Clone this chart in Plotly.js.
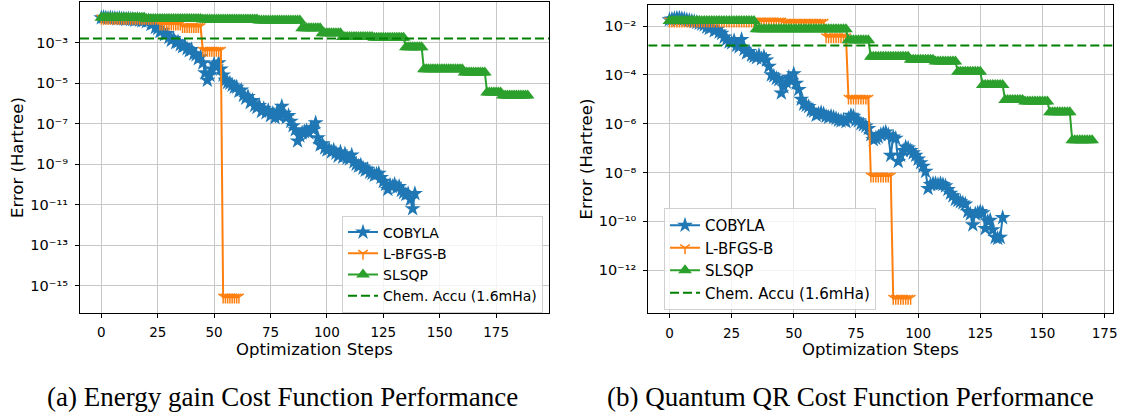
<!DOCTYPE html>
<html>
<head>
<meta charset="utf-8">
<script src="https://cdn.plot.ly/plotly-3.0.1.min.js"></script>
<style>
  html, body { margin: 0; padding: 0; background: #ffffff; }
  #chart { width: 1124px; height: 417px; }
</style>
</head>
<body>
<div id="chart"></div>
<script>
// Optimizer error (Hartree) per optimization step, for two cost functions.
const methodNames = ['COBYLA', 'L-BFGS-B', 'SLSQP'];
const chemAccuLabel = 'Chem. Accu (1.6mHa)';
const chemAccu = 1.6e-3;
const stepTicks = [0, 25, 50, 75, 100, 125, 150, 175];
const energyTickExps = [-15, -13, -11, -9, -7, -5, -3];
const qrTickExps = [-12, -10, -8, -6, -4, -2];
const xTitle = 'Optimization Steps';
const yTitle = 'Error (Hartree)';
const captions = ['(a) Energy gain Cost Function Performance',
                  '(b) Quantum QR Cost Function Performance'];

// (a) Energy gain cost function
const energyCobyla = [
  1.7e-2, 1.8e-2, 1.7e-2, 1.6e-2, 1.7e-2, 1.6e-2, 1.6e-2, 1.5e-2, 1.6e-2, 1.5e-2,
  1.5e-2, 1.4e-2, 1.5e-2, 1.4e-2, 1.4e-2, 1.3e-2, 1.4e-2, 1.3e-2, 1.2e-2, 1.3e-2,
  1.1e-2, 1.2e-2, 7.9e-3, 8.9e-3, 5.6e-3, 5.0e-3, 3.5e-3, 4.0e-3, 2.5e-3, 2.8e-3,
  1.8e-3, 1.3e-3, 1.6e-3, 1.0e-3, 1.1e-3, 7.9e-4, 6.3e-4, 7.1e-4, 5.0e-4, 4.0e-4,
  4.5e-4, 2.8e-4, 2.5e-4, 1.6e-4, 2.0e-4, 1.0e-4, 3.2e-5, 1.4e-5, 2.5e-5, 5.0e-5,
  8.9e-5, 6.3e-5, 1.0e-4, 5.0e-5, 2.5e-5, 1.4e-5, 1.1e-5, 1.0e-5, 7.9e-6, 6.3e-6,
  6.3e-6, 4.0e-6, 4.5e-6, 2.5e-6, 1.8e-6, 2.2e-6, 1.1e-6, 1.4e-6, 7.9e-7, 6.3e-7,
  7.9e-7, 4.0e-7, 5.6e-7, 3.5e-7, 4.5e-7, 2.5e-7, 3.2e-7, 2.0e-7, 4.0e-7, 2.2e-7,
  7.1e-7, 3.2e-7, 2.0e-7, 2.5e-7, 1.3e-7, 7.9e-8, 5.0e-8, 1.4e-8, 2.5e-8, 3.5e-8,
  4.0e-8, 4.5e-8, 3.5e-8, 6.3e-8, 5.0e-8, 1.1e-7, 2.0e-8, 8.9e-9, 1.0e-8, 6.3e-9,
  5.0e-9, 5.6e-9, 4.0e-9, 5.0e-9, 3.5e-9, 2.5e-9, 4.0e-9, 2.2e-9, 3.2e-9, 2.0e-9,
  1.8e-9, 2.8e-9, 1.3e-9, 1.0e-9, 7.9e-10, 8.9e-10, 6.3e-10, 5.0e-10, 5.6e-10, 4.0e-10,
  3.5e-10, 2.8e-10, 3.2e-10, 3.5e-10, 2.2e-10, 1.4e-10, 1.0e-10, 5.6e-11, 8.9e-11, 7.9e-11,
  1.0e-10, 7.1e-11, 7.9e-11, 5.0e-11, 4.0e-11, 3.2e-11, 3.5e-11, 1.8e-11, 6.3e-12, 3.5e-11
];
const energyLbfgsb = [
  1.6e-2, 1.6e-2, 1.6e-2, 1.6e-2, 1.6e-2, 1.6e-2, 1.6e-2, 1.6e-2, 1.6e-2, 1.6e-2,
  1.6e-2, 1.6e-2, 1.6e-2, 1.6e-2, 1.6e-2, 1.6e-2, 1.6e-2, 1.6e-2, 1.6e-2, 1.6e-2,
  1.6e-2, 1.6e-2, 1.6e-2, 1.6e-2, 1.6e-2, 1.6e-2,
  8.3e-3, 8.3e-3, 8.3e-3, 8.3e-3, 8.3e-3, 8.3e-3, 8.3e-3, 8.3e-3, 8.3e-3, 8.3e-3,
  6.3e-3, 6.3e-3, 6.3e-3, 6.3e-3, 6.3e-3, 6.3e-3, 6.3e-3, 6.3e-3, 6.3e-3,
  4.2e-4, 4.2e-4, 4.2e-4, 4.2e-4, 4.2e-4, 4.2e-4, 4.2e-4, 4.2e-4, 4.2e-4,
  2.7e-16, 2.7e-16, 2.7e-16, 2.7e-16, 2.7e-16, 2.7e-16, 2.7e-16, 2.7e-16
];
const energySlsqp = [
  1.7e-2, 1.7e-2, 1.7e-2, 1.7e-2, 1.7e-2, 1.7e-2, 1.7e-2, 1.7e-2, 1.7e-2, 1.7e-2,
  1.7e-2, 1.7e-2, 1.7e-2, 1.7e-2, 1.7e-2, 1.7e-2, 1.7e-2, 1.7e-2, 1.7e-2, 1.7e-2,
  1.5e-2, 1.5e-2, 1.5e-2, 1.5e-2, 1.5e-2, 1.5e-2, 1.5e-2, 1.5e-2, 1.5e-2, 1.5e-2,
  1.5e-2, 1.5e-2, 1.5e-2, 1.5e-2, 1.5e-2, 1.5e-2, 1.5e-2, 1.5e-2, 1.5e-2, 1.5e-2,
  1.5e-2, 1.5e-2, 1.5e-2, 1.5e-2, 1.5e-2,
  1.4e-2, 1.4e-2, 1.4e-2, 1.4e-2, 1.4e-2, 1.4e-2, 1.4e-2, 1.4e-2, 1.4e-2, 1.4e-2,
  1.4e-2, 1.4e-2, 1.4e-2, 1.4e-2, 1.4e-2, 1.4e-2, 1.4e-2, 1.4e-2, 1.4e-2, 1.4e-2,
  1.4e-2, 1.4e-2, 1.4e-2, 1.4e-2, 1.4e-2,
  1.25e-2, 1.25e-2, 1.25e-2, 1.25e-2, 1.25e-2, 1.25e-2, 1.25e-2, 1.25e-2, 1.25e-2, 1.25e-2,
  1.25e-2, 1.25e-2, 1.25e-2, 1.25e-2, 1.25e-2, 1.25e-2, 1.25e-2, 1.25e-2, 1.25e-2,
  5.1e-3, 5.1e-3, 5.1e-3, 5.1e-3, 5.1e-3, 5.1e-3, 5.1e-3, 5.1e-3, 5.1e-3,
  2.9e-3, 2.9e-3, 2.9e-3, 2.9e-3, 2.9e-3, 2.9e-3, 2.9e-3, 2.9e-3, 2.9e-3,
  1.9e-3, 1.9e-3, 1.9e-3, 1.9e-3, 1.9e-3, 1.9e-3, 1.9e-3, 1.9e-3, 1.9e-3, 1.9e-3,
  1.9e-3, 1.9e-3, 1.9e-3, 1.9e-3,
  1.75e-3, 1.75e-3, 1.75e-3, 1.75e-3, 1.75e-3, 1.75e-3, 1.75e-3, 1.75e-3, 1.75e-3, 1.75e-3,
  1.75e-3, 1.75e-3, 1.75e-3, 1.75e-3,
  5.9e-4, 5.9e-4, 5.9e-4, 5.9e-4, 5.9e-4, 5.9e-4, 5.9e-4, 5.9e-4,
  4.9e-5, 4.9e-5, 4.9e-5, 4.9e-5, 4.9e-5, 4.9e-5, 4.9e-5, 4.9e-5, 4.9e-5, 4.9e-5,
  4.9e-5, 4.9e-5, 4.9e-5, 4.9e-5, 4.9e-5, 4.9e-5, 4.9e-5, 4.9e-5,
  3.4e-5, 3.4e-5, 3.4e-5, 3.4e-5, 3.4e-5, 3.4e-5, 3.4e-5, 3.4e-5, 3.4e-5, 3.4e-5,
  3.5e-6, 3.5e-6, 3.5e-6, 3.5e-6, 3.5e-6, 3.5e-6, 3.5e-6,
  2.5e-6, 2.5e-6, 2.5e-6, 2.5e-6, 2.5e-6, 2.5e-6, 2.5e-6, 2.5e-6, 2.5e-6, 2.5e-6,
  2.5e-6, 2.5e-6
];

// (b) Quantum QR cost function
const qrCobyla = [
  1.8e-2, 1.9e-2, 2.0e-2, 2.1e-2, 2.1e-2, 2.0e-2, 1.9e-2, 1.8e-2, 1.7e-2, 1.6e-2,
  1.5e-2, 1.4e-2, 1.3e-2, 1.2e-2, 1.1e-2, 8.9e-3, 7.9e-3, 8.9e-3, 6.3e-3, 7.1e-3,
  5.6e-3, 5.0e-3, 3.5e-3, 2.8e-3, 2.2e-3, 2.0e-3, 2.5e-3, 1.6e-3, 1.4e-3, 2.8e-3,
  1.1e-3, 7.9e-4, 8.9e-4, 6.3e-4, 5.6e-4, 5.0e-4, 6.3e-4, 4.5e-4, 5.6e-4, 4.0e-4,
  2.2e-4, 1.0e-4, 8.9e-5, 7.1e-5, 6.3e-5, 1.8e-5, 3.2e-5, 5.0e-5, 7.9e-5, 5.6e-5,
  1.1e-4, 4.5e-5, 2.5e-5, 1.0e-5, 6.3e-6, 5.6e-6, 5.0e-6, 3.5e-6, 3.2e-6, 2.2e-6,
  2.5e-6, 2.8e-6, 2.5e-6, 2.0e-6, 1.8e-6, 2.0e-6, 1.8e-6, 1.6e-6, 1.4e-6, 1.3e-6,
  1.4e-6, 1.2e-6, 1.6e-6, 2.2e-6, 2.0e-6, 1.4e-6, 1.3e-6, 1.0e-6, 8.9e-7, 7.9e-7,
  6.3e-7, 3.5e-7, 2.2e-7, 2.5e-7, 2.8e-7, 3.5e-7, 4.0e-7, 4.5e-7, 3.5e-7, 5.0e-8,
  2.8e-7, 2.5e-7, 2.8e-8, 5.0e-8, 7.9e-8, 1.1e-7, 1.0e-7, 7.9e-8, 6.3e-8, 5.0e-8,
  3.5e-8, 2.5e-8, 1.8e-8, 1.1e-8, 2.2e-9, 3.2e-9, 3.5e-9, 3.5e-9, 3.2e-9, 3.5e-9,
  3.2e-9, 2.8e-9, 2.0e-9, 1.4e-9, 1.1e-9, 7.9e-10, 7.1e-10, 6.3e-10, 5.6e-10, 5.0e-10,
  2.5e-10, 2.0e-10, 7.1e-11, 2.0e-10, 2.2e-10, 2.5e-10, 2.2e-10, 5.0e-11, 1.0e-10, 1.1e-10,
  4.5e-11, 2.2e-11, 2.0e-11, 2.2e-11, 1.4e-10
];
const qrLbfgsb = [
  1.6e-2, 1.6e-2, 1.6e-2, 1.6e-2, 1.6e-2, 1.6e-2, 1.6e-2, 1.6e-2, 1.6e-2, 1.6e-2,
  1.6e-2, 1.6e-2, 1.6e-2, 1.6e-2, 1.6e-2, 1.6e-2, 1.6e-2, 1.6e-2, 1.6e-2, 1.6e-2,
  1.6e-2, 1.6e-2, 1.6e-2, 1.6e-2, 1.6e-2, 1.6e-2, 1.6e-2, 1.6e-2, 1.6e-2, 1.6e-2,
  1.6e-2, 1.6e-2, 1.6e-2, 1.6e-2, 1.6e-2, 1.6e-2, 1.6e-2, 1.6e-2, 1.6e-2, 1.6e-2,
  1.6e-2, 1.6e-2, 1.6e-2, 1.6e-2, 1.6e-2, 1.6e-2,
  1.4e-2, 1.4e-2, 1.4e-2, 1.4e-2, 1.4e-2, 1.4e-2, 1.4e-2, 1.4e-2, 1.4e-2, 1.4e-2,
  1.4e-2, 1.4e-2, 1.4e-2, 1.4e-2, 1.4e-2, 1.4e-2, 1.4e-2,
  3.6e-3, 3.6e-3, 3.6e-3, 3.6e-3, 3.6e-3, 3.6e-3, 3.6e-3, 3.6e-3, 3.6e-3,
  1.1e-5, 1.1e-5, 1.1e-5, 1.1e-5, 1.1e-5, 1.1e-5, 1.1e-5, 1.1e-5, 1.1e-5,
  7.1e-9, 7.1e-9, 7.1e-9, 7.1e-9, 7.1e-9, 7.1e-9, 7.1e-9, 7.1e-9, 7.1e-9,
  6.9e-14, 6.9e-14, 6.9e-14, 6.9e-14, 6.9e-14, 6.9e-14, 6.9e-14, 6.9e-14
];
const qrSlsqp = [
  1.6e-2, 1.6e-2, 1.6e-2, 1.6e-2, 1.6e-2, 1.6e-2, 1.6e-2, 1.6e-2, 1.6e-2, 1.6e-2,
  1.6e-2, 1.6e-2, 1.6e-2, 1.6e-2, 1.6e-2, 1.6e-2, 1.6e-2, 1.6e-2, 1.6e-2, 1.6e-2,
  1.6e-2, 1.6e-2, 1.6e-2, 1.6e-2, 1.6e-2, 1.6e-2, 1.6e-2, 1.6e-2, 1.6e-2, 1.6e-2,
  1.6e-2, 1.6e-2, 1.6e-2, 1.6e-2, 1.6e-2,
  7.4e-3, 7.4e-3, 7.4e-3, 7.4e-3, 7.4e-3, 7.4e-3, 7.4e-3, 7.4e-3, 7.4e-3, 7.4e-3,
  7.4e-3, 7.4e-3, 7.4e-3, 7.4e-3, 7.4e-3, 7.4e-3, 7.4e-3, 7.4e-3, 7.4e-3, 7.4e-3,
  7.4e-3, 7.4e-3, 7.4e-3, 7.4e-3, 7.4e-3, 7.4e-3, 7.4e-3, 7.4e-3, 7.4e-3, 7.4e-3,
  7.4e-3, 7.4e-3, 7.4e-3, 7.4e-3, 7.4e-3, 7.4e-3, 7.4e-3,
  2.6e-3, 2.6e-3, 2.6e-3, 2.6e-3, 2.6e-3, 2.6e-3, 2.6e-3, 2.6e-3, 2.6e-3,
  5.5e-4, 5.5e-4, 5.5e-4, 5.5e-4, 5.5e-4, 5.5e-4, 5.5e-4, 5.5e-4, 5.5e-4, 5.5e-4,
  5.5e-4, 5.5e-4, 5.5e-4, 5.5e-4, 5.5e-4, 5.5e-4,
  4.1e-4, 4.1e-4, 4.1e-4, 4.1e-4, 4.1e-4, 4.1e-4, 4.1e-4, 4.1e-4, 4.1e-4, 4.1e-4,
  3.5e-4, 3.5e-4, 3.5e-4, 3.5e-4, 3.5e-4, 3.5e-4, 3.5e-4, 3.5e-4, 3.5e-4,
  1.35e-4, 1.35e-4, 1.35e-4, 1.35e-4, 1.35e-4, 1.35e-4, 1.35e-4, 1.35e-4, 1.35e-4, 1.35e-4,
  3.8e-5, 3.8e-5, 3.8e-5, 3.8e-5, 3.8e-5, 3.8e-5, 3.8e-5, 3.8e-5, 3.8e-5,
  9.3e-6, 9.3e-6, 9.3e-6, 9.3e-6, 9.3e-6, 9.3e-6, 9.3e-6, 9.3e-6,
  8.0e-6, 8.0e-6, 8.0e-6, 8.0e-6, 8.0e-6, 8.0e-6, 8.0e-6, 8.0e-6, 8.0e-6, 8.0e-6,
  2.9e-6, 2.9e-6, 2.9e-6, 2.9e-6, 2.9e-6, 2.9e-6, 2.9e-6, 2.9e-6, 2.9e-6,
  2.1e-7, 2.1e-7, 2.1e-7, 2.1e-7, 2.1e-7, 2.1e-7, 2.1e-7, 2.1e-7, 2.1e-7
];

// ---- styling ----
const W = 1124, H = 417;
const methodStyle = {
  'COBYLA':   { color: '#1f77b4', marker: { symbol: 'star', size: 12 } },
  'L-BFGS-B': { color: '#ff7f0e', marker: { symbol: 'y-down', size: 8, line: { width: 1.5, color: '#ff7f0e' } } },
  'SLSQP':    { color: '#2ca02c', marker: { symbol: 'triangle-up', size: 12 } }
};
const chemColor = '#008000';

const panels = [
  { xa: 'x', ya: 'y', legend: 'legend',
    series: [energyCobyla, energyLbfgsb, energySlsqp],
    xRange: [-9.45, 198.45] },
  { xa: 'x2', ya: 'y2', legend: 'legend2',
    series: [qrCobyla, qrLbfgsb, qrSlsqp],
    xRange: [-8.5, 178.5] }
];

const traces = [];
panels.forEach(p => {
  p.series.forEach((vals, k) => {
    const name = methodNames[k];
    const st = methodStyle[name];
    traces.push({
      type: 'scatter', mode: 'lines+markers', name: name,
      x: vals.map((_, i) => i), y: vals,
      xaxis: p.xa, yaxis: p.ya, legend: p.legend,
      line: { color: st.color, width: 2 },
      marker: Object.assign({ color: st.color }, st.marker),
      hoverinfo: 'x+y+name'
    });
  });
  traces.push({
    type: 'scatter', mode: 'lines', name: chemAccuLabel,
    x: p.xRange, y: [chemAccu, chemAccu],
    xaxis: p.xa, yaxis: p.ya, legend: p.legend,
    line: { color: chemColor, width: 2, dash: '9px,4px' },
    hoverinfo: 'name'
  });
});

// Power-of-ten labels written with superscript characters, e.g. 10⁻¹³
const SUP_DIGITS = ['\u2070', '\u00B9', '\u00B2', '\u00B3', '\u2074', '\u2075', '\u2076', '\u2077', '\u2078', '\u2079'];
const powLabel = e => '10' + (e < 0 ? '\u207B' : '') +
  String(Math.abs(e)).split('').map(d => SUP_DIGITS[+d]).join('');

const baseX = {
  tickvals: stepTicks, ticks: 'outside', ticklen: 4, tickwidth: 1, tickcolor: '#000',
  showline: true, mirror: true, linecolor: '#000', linewidth: 1,
  showgrid: true, gridcolor: '#c8c8c8', gridwidth: 1, zeroline: false,
  tickfont: { size: 13.5, color: '#000' }, ticklabelstandoff: 3, fixedrange: true
};
const baseY = Object.assign({}, baseX, { type: 'log', ticklabelstandoff: 4, tickfont: { size: 14.5, color: '#000' } });

const layout = {
  width: W, height: H,
  margin: { l: 0, r: 0, t: 0, b: 0 },
  paper_bgcolor: '#ffffff', plot_bgcolor: '#ffffff',
  font: { family: 'DejaVu Sans, sans-serif', size: 14, color: '#000' },
  showlegend: true,
  xaxis: Object.assign({}, baseX, { domain: [80 / W, 549 / W], range: panels[0].xRange, anchor: 'y' }),
  yaxis: Object.assign({}, baseY, {
    domain: [1 - 313 / H, 1 - 2 / H], range: [-16.35, -0.99], anchor: 'x',
    tickvals: energyTickExps.map(e => Math.pow(10, e)), ticktext: energyTickExps.map(powLabel)
  }),
  xaxis2: Object.assign({}, baseX, { domain: [648.3 / W, 1113.3 / W], range: panels[1].xRange, anchor: 'y2' }),
  yaxis2: Object.assign({}, baseY, {
    domain: [1 - 313.3 / H, 1 - 4.7 / H], range: [-13.77, -1.127], anchor: 'x2',
    tickvals: qrTickExps.map(e => Math.pow(10, e)), ticktext: qrTickExps.map(powLabel)
  }),
  legend: {
    x: 342 / W, y: 1 - 215.5 / H, xanchor: 'left', yanchor: 'top',
    bgcolor: 'rgba(255,255,255,0.8)', bordercolor: '#d0d0d0', borderwidth: 1,
    font: { size: 14, color: '#000' }, tracegroupgap: 0
  },
  legend2: {
    x: 664 / W, y: 1 - 208 / H, xanchor: 'left', yanchor: 'top',
    bgcolor: 'rgba(255,255,255,0.8)', bordercolor: '#d0d0d0', borderwidth: 1,
    font: { size: 15, color: '#000' }, tracegroupgap: 0
  },
  annotations: [
    { text: xTitle, xref: 'paper', yref: 'paper', x: 314.5 / W, y: 1 - 349 / H,
      xanchor: 'center', yanchor: 'middle', showarrow: false, font: { size: 16.5 } },
    { text: xTitle, xref: 'paper', yref: 'paper', x: 880.8 / W, y: 1 - 349 / H,
      xanchor: 'center', yanchor: 'middle', showarrow: false, font: { size: 16.5 } },
    { text: yTitle, xref: 'paper', yref: 'paper', x: 17.5 / W, y: 1 - 157.5 / H, textangle: -90,
      xanchor: 'center', yanchor: 'middle', showarrow: false, font: { size: 16.5 } },
    { text: yTitle, xref: 'paper', yref: 'paper', x: 585.5 / W, y: 1 - 159 / H, textangle: -90,
      xanchor: 'center', yanchor: 'middle', showarrow: false, font: { size: 16.5 } },
    { text: captions[0], xref: 'paper', yref: 'paper', x: 282 / W, y: 1 - 397 / H,
      xanchor: 'center', yanchor: 'middle', showarrow: false,
      font: { family: 'Liberation Serif, serif', size: 27 } },
    { text: captions[1], xref: 'paper', yref: 'paper', x: 850.5 / W, y: 1 - 397 / H,
      xanchor: 'center', yanchor: 'middle', showarrow: false,
      font: { family: 'Liberation Serif, serif', size: 27 } }
  ]
};

Plotly.newPlot('chart', traces, layout, { displayModeBar: false, staticPlot: true });
</script>
</body>
</html>
